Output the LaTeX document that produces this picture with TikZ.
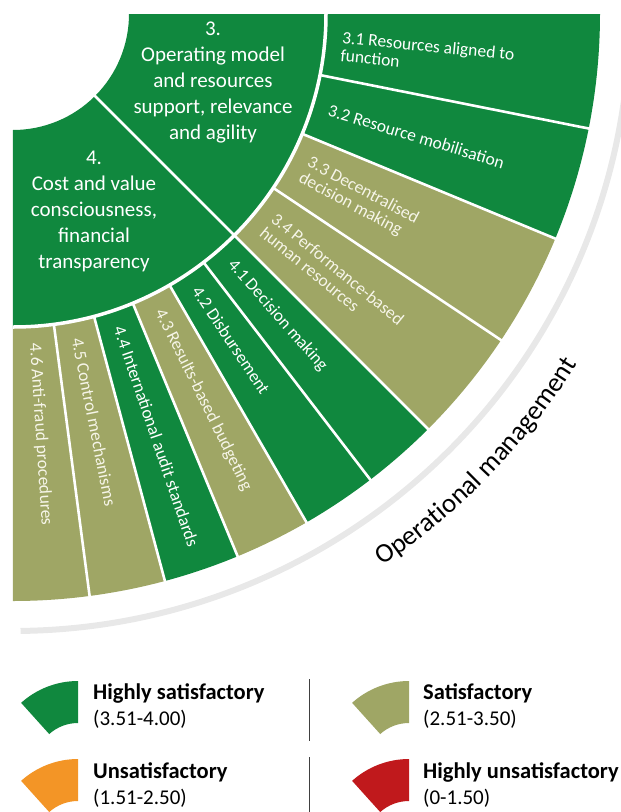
\documentclass[tikz,border=0pt]{standalone}
\usepackage{fontspec}
\setmainfont{Carlito}
\usetikzlibrary{decorations.text}

\definecolor{hsgreen}{RGB}{16,136,62}
\definecolor{satolive}{RGB}{159,166,101}
\definecolor{unsorange}{RGB}{243,149,38}
\definecolor{husred}{RGB}{192,25,28}
\definecolor{ringgray}{RGB}{232,232,232}
\definecolor{palelabel}{RGB}{246,245,232}

\begin{document}
\begin{tikzpicture}[
    x=1pt, y=1pt,
    every node/.style={font=\fontsize{17.5}{18}\selectfont, inner sep=0pt},
    outlabel/.style={
        anchor=west,
        align=left,
        text=white
    },
    olivelabel/.style={
        outlabel,
        text=palelabel
    },
    corelabel/.style={
        align=center,
        text=white,
        font=\fontsize{21}{26}\selectfont
    },
    gap/.style={
        white,
        line width=2.6pt
    },
    sepline/.style={
        black!75,
        line width=1pt
    },
    legtitle/.style={
        anchor=base west,
        font=\bfseries\fontsize{22.5}{25}\selectfont
    },
    legrange/.style={
        anchor=base west,
        font=\fontsize{21}{25}\selectfont
    }
]

\useasboundingbox (-13,14) rectangle (608,-798);

% Outer gray ring
\draw [ringgray, line width=6pt] (-3:617) arc[start angle=-3, end angle=-89.3, radius=617];

% Inner ring: 3 and 4
\fill [hsgreen] (0:116) -- (0:313) arc[start angle=0, end angle=-45, radius=313] -- (-45:116) arc[start angle=-45, end angle=0, radius=116] -- cycle;
\fill [hsgreen] (-45:116) -- (-45:313) arc[start angle=-45, end angle=-90, radius=313] -- (-90:116) arc[start angle=-90, end angle=-45, radius=116] -- cycle;

% Outer ring: 3.1 to 3.4
\fill [hsgreen] (0:313) -- (0:587) arc[start angle=0, end angle=-11.25, radius=587] -- (-11.25:313) arc[start angle=-11.25, end angle=0, radius=313] -- cycle;
\fill [hsgreen] (-11.25:313) -- (-11.25:587) arc[start angle=-11.25, end angle=-22.5, radius=587] -- (-22.5:313) arc[start angle=-22.5, end angle=-11.25, radius=313] -- cycle;
\fill [satolive] (-22.5:313) -- (-22.5:587) arc[start angle=-22.5, end angle=-33.75, radius=587] -- (-33.75:313) arc[start angle=-33.75, end angle=-22.5, radius=313] -- cycle;
\fill [satolive] (-33.75:313) -- (-33.75:587) arc[start angle=-33.75, end angle=-45, radius=587] -- (-45:313) arc[start angle=-45, end angle=-33.75, radius=313] -- cycle;

% Outer ring: 4.1 to 4.6
\fill [hsgreen] (-45:313) -- (-45:587) arc[start angle=-45, end angle=-52.5, radius=587] -- (-52.5:313) arc[start angle=-52.5, end angle=-45, radius=313] -- cycle;
\fill [hsgreen] (-52.5:313) -- (-52.5:587) arc[start angle=-52.5, end angle=-60, radius=587] -- (-60:313) arc[start angle=-60, end angle=-52.5, radius=313] -- cycle;
\fill [satolive] (-60:313) -- (-60:587) arc[start angle=-60, end angle=-67.5, radius=587] -- (-67.5:313) arc[start angle=-67.5, end angle=-60, radius=313] -- cycle;
\fill [hsgreen] (-67.5:313) -- (-67.5:587) arc[start angle=-67.5, end angle=-75, radius=587] -- (-75:313) arc[start angle=-75, end angle=-67.5, radius=313] -- cycle;
\fill [satolive] (-75:313) -- (-75:587) arc[start angle=-75, end angle=-82.5, radius=587] -- (-82.5:313) arc[start angle=-82.5, end angle=-75, radius=313] -- cycle;
\fill [satolive] (-82.5:313) -- (-82.5:587) arc[start angle=-82.5, end angle=-90, radius=587] -- (-90:313) arc[start angle=-90, end angle=-82.5, radius=313] -- cycle;

% White gaps
\draw [gap, line width=3.5pt] (0:313) arc[start angle=0, end angle=-90, radius=313];
\draw [gap] (-45:110) -- (-45:590);
\draw [gap] (-11.25:313) -- (-11.25:590);
\draw [gap] (-22.5:313) -- (-22.5:590);
\draw [gap] (-33.75:313) -- (-33.75:590);
\draw [gap] (-52.5:313) -- (-52.5:590);
\draw [gap] (-60:313) -- (-60:590);
\draw [gap] (-67.5:313) -- (-67.5:590);
\draw [gap] (-75:313) -- (-75:590);
\draw [gap] (-82.5:313) -- (-82.5:590);

% Inner labels
\node (core3) [corelabel] at (200,-68.5) {3.\\Operating model\\and resources\\support, relevance\\and agility};
\node (core4) [corelabel] at (81,-197.5) {4.\\Cost and value\\consciousness,\\financial\\transparency};

% Outer labels
\node (l31) [outlabel, rotate=-5.625] at (-5.625:330) {3.1 Resources aligned to\\function};
\node (l32) [outlabel, rotate=-16.875] at (-16.875:330) {3.2 Resource mobilisation};
\node (l33) [olivelabel, rotate=-28.125] at (-28.125:330) {3.3 Decentralised\\decision making};
\node (l34) [olivelabel, rotate=-39.375] at (-39.375:330) {3.4 Performance-based\\human resources};
\node (l41) [outlabel, rotate=-48.75] at (-48.75:330) {4.1 Decision making};
\node (l42) [outlabel, rotate=-56.25] at (-56.25:330) {4.2 Disbursement};
\node (l43) [olivelabel, rotate=-63.75] at (-63.75:330) {4.3 Results-based budgeting};
\node (l44) [outlabel, rotate=-71.25] at (-71.25:330) {4.4 International audit standards};
\node (l45) [olivelabel, rotate=-78.75] at (-78.75:330) {4.5 Control mechanisms};
\node (l46) [olivelabel, rotate=-86.25] at (-86.25:330) {4.6 Anti-fraud procedures};

% Ring title
\path [decorate, decoration={text along path, text align=center, text={|\fontsize{27}{30}\selectfont|Operational management}}] (-58:664) arc[start angle=-58, end angle=-30, radius=664];

% Legend
\fill [hsgreen, shift={(65,-752)}] (90:43) -- (90:85) arc[start angle=90, end angle=132, radius=85] -- (132:43) arc[start angle=132, end angle=90, radius=43] -- cycle;
\fill [satolive, shift={(396,-752)}] (90:43) -- (90:85) arc[start angle=90, end angle=132, radius=85] -- (132:43) arc[start angle=132, end angle=90, radius=43] -- cycle;
\fill [unsorange, shift={(65,-830)}] (90:43) -- (90:85) arc[start angle=90, end angle=132, radius=85] -- (132:43) arc[start angle=132, end angle=90, radius=43] -- cycle;
\fill [husred, shift={(396,-830)}] (90:43) -- (90:85) arc[start angle=90, end angle=132, radius=85] -- (132:43) arc[start angle=132, end angle=90, radius=43] -- cycle;

\node (t1) [legtitle] at (80,-685) {Highly satisfactory};
\node (r1) [legrange] at (80,-711) {(3.51-4.00)};
\node (t2) [legtitle] at (410,-685) {Satisfactory};
\node (r2) [legrange] at (410,-711) {(2.51-3.50)};
\node (t3) [legtitle] at (80,-764) {Unsatisfactory};
\node (r3) [legrange] at (80,-790) {(1.51-2.50)};
\node (t4) [legtitle] at (410,-764) {Highly unsatisfactory};
\node (r4) [legrange] at (410,-790) {(0-1.50)};

\draw [sepline] (296,-665) -- (296,-727);
\draw [sepline] (296,-743) -- (296,-810);

\end{tikzpicture}
\end{document}
